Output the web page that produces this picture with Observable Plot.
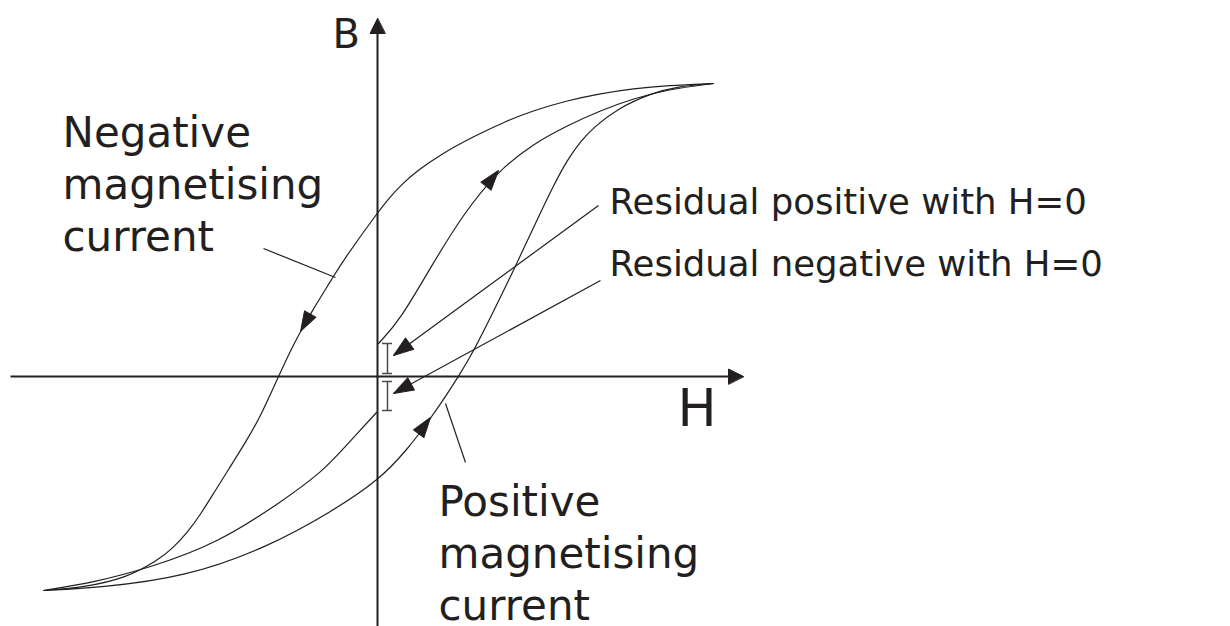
<!DOCTYPE html>
<html>
<head>
<meta charset="utf-8">
<script src="https://cdn.jsdelivr.net/npm/d3@7"></script>
<script src="https://cdn.jsdelivr.net/npm/@observablehq/plot@0.6"></script>
<style>
  html, body { margin: 0; padding: 0; background: #fff; }
  #chart svg { display: block; }
</style>
</head>
<body>
<div id="chart"></div>
<script>
// B–H hysteresis loop: field strength H on x, flux density B on y (arbitrary units).

// Outer loop, descending branch (positive saturation -> negative saturation)
const outerFalling = [
  [3.36, 2.93], [2.90, 2.91], [2.56, 2.88], [2.23, 2.83], [1.90, 2.76], [1.56, 2.66],
  [1.30, 2.56], [0.96, 2.40], [0.63, 2.22], [0.40, 2.06], [0.23, 1.91], [0.13, 1.80],
  [0.00, 1.64], [-0.35, 1.15], [-0.44, 1.00], [-0.67, 0.63], [-0.77, 0.45], [-0.87, 0.26],
  [-0.99, 0.00], [-1.17, -0.40], [-1.32, -0.66], [-1.49, -0.93], [-1.64, -1.17],
  [-1.77, -1.38], [-1.90, -1.56], [-2.05, -1.72], [-2.20, -1.84], [-2.50, -2.01],
  [-2.94, -2.11], [-3.34, -2.14]
];

// Outer loop, ascending branch (negative saturation -> positive saturation)
const outerRising = [
  [-3.34, -2.14], [-2.77, -2.11], [-1.94, -2.01], [-1.10, -1.71], [-0.44, -1.34],
  [0.01, -1.04], [0.30, -0.73], [0.53, -0.42], [0.68, -0.20], [0.81, 0.00], [0.96, 0.25],
  [1.16, 0.65], [1.36, 1.06], [1.63, 1.64], [1.76, 1.91], [1.90, 2.17], [2.03, 2.35],
  [2.16, 2.49], [2.40, 2.68], [2.73, 2.83], [3.00, 2.90], [3.36, 2.93]
];

// Inner curve from the positive remanence up to saturation
const innerUpper = [
  [0.01, 0.33], [0.23, 0.57], [0.53, 1.09], [0.86, 1.63], [1.20, 2.05], [1.56, 2.33],
  [1.90, 2.51], [2.23, 2.66], [2.56, 2.78], [2.90, 2.87], [3.36, 2.93]
];

// Inner curve from negative saturation to the negative remanence
const innerLower = [
  [-3.34, -2.14], [-2.84, -2.06], [-2.27, -1.91], [-1.60, -1.67], [-0.94, -1.24],
  [-0.54, -0.94], [-0.34, -0.72], [-0.01, -0.36]
];

// Remanence markers at H = 0 (I-shaped bars): position and B extent
const residuals = [
  { h: 0.10, b1: 0.03, b2: 0.33 },
  { h: 0.10, b1: -0.05, b2: -0.34 }
];

// Direction arrowheads along the curves: tip and a trailing point on the curve
const curveArrows = [
  { h: -0.77, b: 0.45, fromH: -0.67, fromB: 0.63 },
  { h: 1.21, b: 2.06, fromH: 1.09, fromB: 1.91 },
  { h: 0.53, b: -0.41, fromH: 0.42, fromB: -0.56 }
];

// Callout pointers with solid heads (label -> remanence bar)
const pointerArrows = [
  { h1: 2.21, b1: 1.71, h2: 0.16, b2: 0.21 },
  { h1: 2.23, b1: 0.96, h2: 0.16, b2: -0.17 }
];

// Plain leader lines (label -> curve)
const leaders = [
  { h1: -1.14, b1: 1.28, h2: -0.42, b2: 0.99 },
  { h1: 0.68, b1: -0.27, h2: 0.88, b2: -0.86 }
];

// Axes: extents of the H and B axes (arrow tips at the positive ends)
const hAxis = { from: -3.67, to: 3.66 };
const bAxis = { from: -2.50, to: 3.58 };

// Text labels
const labels = [
  { h: -3.15, b: 1.26, text: "Negative\nmagnetising\ncurrent", size: 42 },
  { h: 0.61, b: -2.43, text: "Positive\nmagnetising\ncurrent", size: 42 },
  { h: 2.32, b: 1.63, text: "Residual positive with H=0", size: 35.5 },
  { h: 2.32, b: 1.01, text: "Residual negative with H=0", size: 35.5 },
  { h: -0.45, b: 3.29, text: "B", size: 40 },
  { h: 3.00, b: -0.49, text: "H", size: 52 }
];

const ink = "#231f20";
const font = "DejaVu Sans, Verdana, sans-serif";

const toPts = (arr) => arr.map(([h, b]) => ({ h, b }));

// Filled triangular arrowhead; the vector's end is the tip
const solidHead = {
  draw(context, l, r) {
    context.moveTo(0, -l);
    context.lineTo(-r, 0);
    context.lineTo(r, 0);
    context.closePath();
  }
};

// Angle (clockwise from up) for a head travelling from (h0,b0) to (h1,b1)
const heading = (h0, b0, h1, b1) => Math.atan2(h1 - h0, b1 - b0) * 180 / Math.PI;

const axisArrows = [
  { h: 0, b: bAxis.to, rot: heading(0, 0, 0, bAxis.to) },
  { h: hAxis.to, b: 0, rot: heading(0, 0, hAxis.to, 0) }
];

const capHalf = 0.05;

const curves = [outerFalling, outerRising, innerUpper, innerLower];

const chart = Plot.plot({
  width: 1230,
  height: 626,
  margin: 0,
  x: { domain: [-3.77, 8.53], axis: null },
  y: { domain: [-2.50, 3.76], axis: null },
  style: { background: "#fff" },
  marks: [
    // axes
    Plot.link([hAxis], { x1: "from", x2: (d) => d.to - 0.08, y1: 0, y2: 0, stroke: ink, strokeWidth: 2 }),
    Plot.link([bAxis], { x1: 0, x2: 0, y1: "from", y2: (d) => d.to - 0.08, stroke: ink, strokeWidth: 2 }),
    Plot.vector(axisArrows, {
      x: "h", y: "b", rotate: "rot", length: 15, r: 7.5, anchor: "end",
      shape: solidHead, fill: ink, stroke: ink, strokeWidth: 1
    }),

    // loop curves (B-spline through the sampled points)
    ...curves.map((c) => Plot.line(toPts(c), {
      x: "h", y: "b", curve: "basis", stroke: ink, strokeWidth: 1.2
    })),

    // curve direction arrows
    Plot.vector(curveArrows, {
      x: "h", y: "b", rotate: (d) => heading(d.fromH, d.fromB, d.h, d.b),
      length: 20, r: 6.5, anchor: "end",
      shape: solidHead, fill: ink, stroke: ink, strokeWidth: 1
    }),

    // remanence bars
    Plot.ruleX(residuals, { x: "h", y1: "b1", y2: "b2", stroke: "#4a4a4a", strokeWidth: 1.5 }),
    Plot.ruleY(residuals, { y: "b1", x1: (d) => d.h - capHalf, x2: (d) => d.h + capHalf, stroke: "#4a4a4a", strokeWidth: 1.5 }),
    Plot.ruleY(residuals, { y: "b2", x1: (d) => d.h - capHalf, x2: (d) => d.h + capHalf, stroke: "#4a4a4a", strokeWidth: 1.5 }),

    // callouts
    Plot.link(pointerArrows, { x1: "h1", y1: "b1", x2: "h2", y2: "b2", stroke: ink, strokeWidth: 1.2 }),
    Plot.vector(pointerArrows, {
      x: "h2", y: "b2", rotate: (d) => heading(d.h1, d.b1, d.h2, d.b2),
      length: 20, r: 7, anchor: "end",
      shape: solidHead, fill: ink, stroke: ink, strokeWidth: 1
    }),
    Plot.link(leaders, { x1: "h1", y1: "b1", x2: "h2", y2: "b2", stroke: ink, strokeWidth: 1.2 }),

    // labels
    Plot.text(labels, {
      x: "h", y: "b", text: "text", fontSize: "size",
      fontFamily: font, fill: ink, textAnchor: "start", lineAnchor: "bottom", lineHeight: 1.23
    })
  ]
});

document.getElementById("chart").append(chart);
</script>
</body>
</html>
